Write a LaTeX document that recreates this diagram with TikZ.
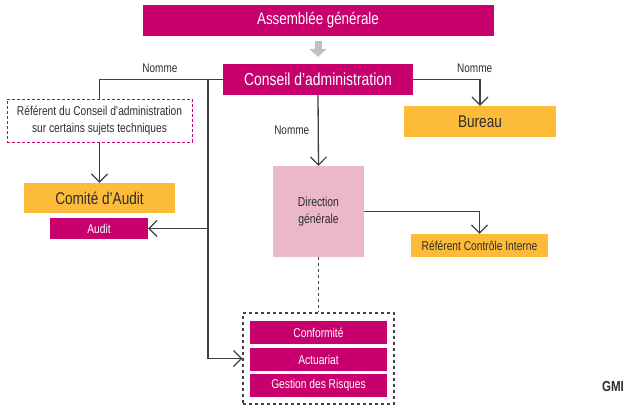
\documentclass[tikz,border=0pt]{standalone}
\usepackage{fontspec}
\setmainfont{Liberation Sans}[FakeStretch=0.8]
\usetikzlibrary{arrows.meta,calc}
\definecolor{magenta}{RGB}{200,0,110}
\definecolor{jaune}{RGB}{253,187,58}
\definecolor{rose}{RGB}{234,183,203}
\definecolor{trait}{RGB}{65,65,65}
\definecolor{texte}{RGB}{45,45,45}

\begin{document}
\begin{tikzpicture}[x=1pt,y=-1pt,
	boite/.style={inner sep=0pt, align=center},
	rouge/.style={boite, fill=magenta, text=white},
	orange/.style={boite, fill=jaune, text=texte},
	lien/.style={draw=trait, line width=1.3pt},
	fleche/.style={lien, -{Straight Barb[length=8pt,width=16pt,line width=1.2pt]}},
	nomme/.style={font=\fontsize{12.5}{14}\selectfont, text=texte},
	petit/.style={font=\fontsize{12.8}{15}\selectfont},
	grand/.style={font=\fontsize{17}{20}\selectfont}]
	\useasboundingbox (0,0) rectangle (629,405);
	\node[rouge, minimum width=351pt, minimum height=31pt, font=\fontsize{16.7}{20}\selectfont] (ag) at (318,20.5) {Assemblée générale};
	\node[rouge, minimum width=190pt, minimum height=31pt, font=\fontsize{17.4}{20}\selectfont] (ca) at (318,79.5) {Conseil d’administration};
	\node[boite, draw=magenta, dash pattern=on 3pt off 2pt, line width=1pt, minimum width=185pt, minimum height=43pt, text=texte, font=\fontsize{12.8}{16.5}\selectfont] (ref) at (99.5,120.5) {Référent du Conseil d’administration\\sur certains sujets techniques};
	\node[orange, grand, minimum width=151pt, minimum height=30pt] (comite) at (99.5,198) {Comité d’Audit};
	\node[rouge, petit, minimum width=98pt, minimum height=21pt] (audit) at (99,228.5) {Audit};
	\node[orange, grand, minimum width=152pt, minimum height=31pt] (bureau) at (480,121.5) {Bureau};
	\node[boite, fill=rose, text=texte, minimum width=91pt, minimum height=91pt, font=\fontsize{13}{16.5}\selectfont] (dg) at (318.5,211.5) {Direction\\générale};
	\node[orange, petit, minimum width=137pt, minimum height=23pt] (rci) at (479.5,245.5) {Référent Contrôle Interne};
	\node[draw=trait, dashed, line width=1.3pt, minimum width=151pt, minimum height=91pt, inner sep=0pt] (groupe) at (318.5,358.5) {};
	\node[rouge, petit, minimum width=137pt, minimum height=23pt] (conf) at (318.5,332.5) {Conformité};
	\node[rouge, petit, minimum width=137pt, minimum height=23pt] (act) at (318.5,359.5) {Actuariat};
	\node[rouge, petit, minimum width=137pt, minimum height=23pt] (gest) at (318.5,385.5) {Gestion des Risques};
	\node[text=texte, font=\fontsize{14.5}{16}\selectfont\bfseries] (gmi) at (613,387) {GMI};

	\draw[draw=black!25, line width=7pt, shorten <=5pt, shorten >=7pt, -{Triangle[width=17pt,length=8pt]}] (ag.south) -- (ca.north);

	\coordinate (v) at (208,79.5);
	\draw[lien] (ca.west) -| (ref.north) node[nomme, pos=0.255, above=3pt] (n1) {Nomme};
	\draw[fleche] (ref.south) -- (comite.north);
	\draw[fleche] (v) |- (groupe.west);
	\draw[fleche] (v |- audit) -- (audit.east);
	\draw[fleche] (ca.east) -| (bureau.north) node[nomme, pos=0.46, above=3pt] (n2) {Nomme};
	\draw[fleche] (ca.south) -- (dg.north) node[nomme, pos=0.5, left=5pt] (n3) {Nomme};
	\draw[fleche] (dg.east) -| (rci.north);
	\draw[lien, dashed] (dg.south) -- (groupe.north);
\end{tikzpicture}
\end{document}
